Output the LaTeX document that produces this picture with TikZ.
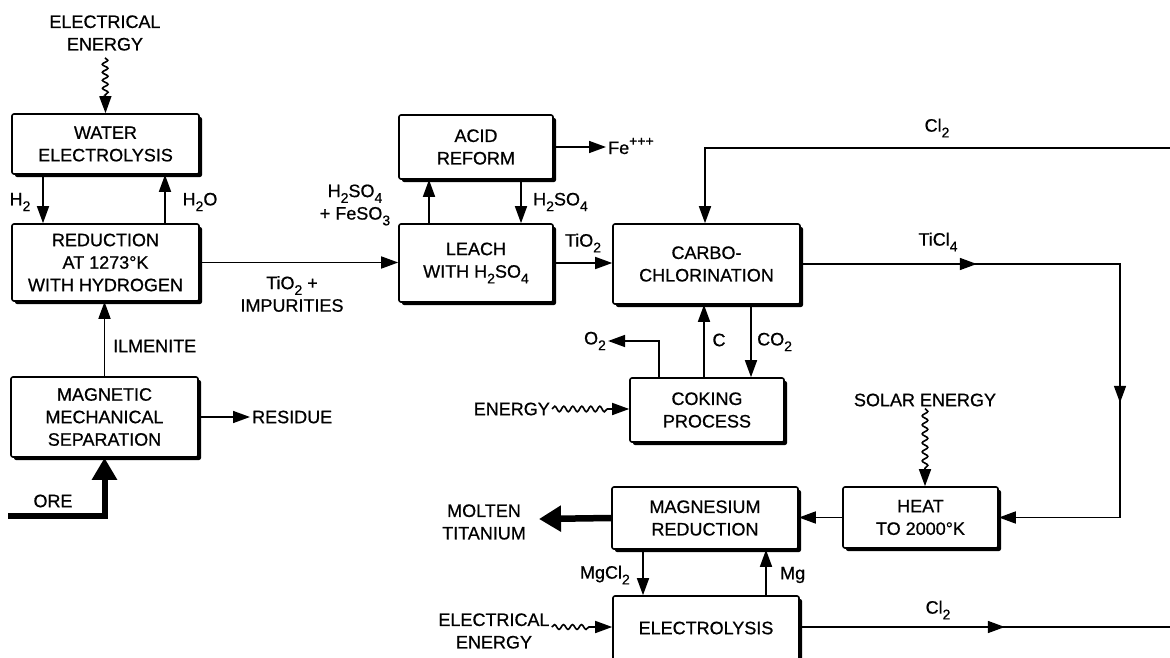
\documentclass[tikz,border=0pt]{standalone}
\usepackage{fontspec}
\setmainfont{Liberation Sans}[FakeBold=0.7]
\usetikzlibrary{arrows.meta,shadows,decorations.pathmorphing,decorations.markings}
\newcommand\sbs[1]{\raisebox{-0.32em}{\fontsize{14}{14}\selectfont #1}}
\newcommand\sps[1]{\raisebox{0.45em}{\fontsize{14}{14}\selectfont #1}}
\begin{document}
\begin{tikzpicture}[x=1pt,y=-1pt,
  every node/.style={font=\fontsize{18}{22.5}\selectfont, inner sep=2pt},
  box/.style={draw, line width=1.6pt, fill=white, rounded corners=2pt, align=center, inner sep=0pt,
    drop shadow={shadow xshift=3pt, shadow yshift=-3pt, fill=black, opacity=1}},
  lbl/.style={align=center},
  tip/.style={-{Triangle[length=17pt,width=12pt]}},
  arr/.style={line width=1.6pt, tip},
  plain/.style={line width=1.6pt},
  wavy/.style={arr, decorate, decoration={snake, amplitude=2.8pt, segment length=8pt, post length=17pt}},
  bigarr/.style={line width=6pt, -{Triangle[length=22pt,width=24pt]}},
  ]
\useasboundingbox (0,0) rectangle (1170,658);

% boxes
\node[box, minimum width=187pt, minimum height=60pt] (water) at (105.5,144) {WATER\\ELECTROLYSIS};
\node[box, minimum width=187pt, minimum height=77pt] (reduct) at (105.5,262.5) {REDUCTION\\AT 1273°K\\WITH HYDROGEN};
\node[box, minimum width=187pt, minimum height=80pt] (magnet) at (104.5,417) {MAGNETIC\\MECHANICAL\\SEPARATION};
\node[box, minimum width=154pt, minimum height=64pt] (acid) at (476,147) {ACID\\REFORM};
\node[box, minimum width=154pt, minimum height=78pt] (leach) at (476,263) {LEACH\\WITH H\sbs{2}SO\sbs{4}};
\node[box, minimum width=187pt, minimum height=80pt] (carbo) at (706.5,264) {CARBO-\\CHLORINATION};
\node[box, minimum width=154pt, minimum height=64pt] (coking) at (707,410) {COKING\\PROCESS};
\node[box, minimum width=186pt, minimum height=62pt] (mag) at (705,518) {MAGNESIUM\\REDUCTION};
\node[box, minimum width=155pt, minimum height=61pt] (heat) at (920.5,517.5) {HEAT\\TO 2000°K};
\node[box, minimum width=186pt, minimum height=64pt] (elec) at (706,628) {ELECTROLYSIS};

% labels
\node[lbl] (eeTop) at (105,33) {ELECTRICAL\\ENERGY};
\node (h2) at (20,202) {H\sbs{2}};
\node (h2o) at (200,202) {H\sbs{2}O};
\node[lbl] (tio2imp) at (292,294) {TiO\sbs{2} +\\IMPURITIES};
\node[anchor=west] (ilm) at (111,346) {ILMENITE};
\node[anchor=west] (residue) at (250,417) {RESIDUE};
\node (ore) at (53,501) {ORE};
\node[lbl] (h2so4a) at (355,205) {H\sbs{2}SO\sbs{4}\\+ FeSO\sbs{3}};
\node[anchor=west] (h2so4b) at (531,202) {H\sbs{2}SO\sbs{4}};
\node[anchor=west] (fe) at (606,146) {Fe\sps{+++}};
\node (tio2) at (583,243) {TiO\sbs{2}};
\node (cltop) at (937,128) {Cl\sbs{2}};
\node (ticl4) at (938,242) {TiCl\sbs{4}};
\node (o2) at (595,341) {O\sbs{2}};
\node (c) at (719,340) {C};
\node[anchor=west] (co2) at (755,342) {CO\sbs{2}};
\node[anchor=east] (energy) at (552,409) {ENERGY};
\node (solar) at (925,400) {SOLAR ENERGY};
\node[lbl] (molten) at (484,522) {MOLTEN\\TITANIUM};
\node[anchor=east] (mgcl2) at (632,575) {MgCl\sbs{2}};
\node[anchor=west] (mg) at (778,575) {Mg};
\node[lbl] (eeBot) at (494,631) {ELECTRICAL\\ENERGY};
\node (clbot) at (938,610) {Cl\sbs{2}};

% helper coordinates
\coordinate (xh2) at (43,0);
\coordinate (xh2o) at (165,0);
\coordinate (xup) at (429,0);
\coordinate (xdn) at (521,0);
\coordinate (xcl) at (705,0);
\coordinate (xc) at (704,0);
\coordinate (xco2) at (751,0);
\coordinate (xo2) at (659,0);
\coordinate (yo2) at (0,341);
\coordinate (xmgcl) at (643,0);
\coordinate (xmg) at (766,0);
\coordinate (xloop) at (1120,0);
\coordinate (clin) at (1172,148);
\coordinate (clout) at (1172,627);
\coordinate (orein) at (8,516);
\coordinate (mtip) at (539,519);

% connectors
\draw[wavy] ([yshift=-5pt]eeTop.south) -- (water.north);
\draw[arr] (water.south -| xh2) -- (reduct.north -| xh2);
\draw[arr] (reduct.north -| xh2o) -- (water.south -| xh2o);
\draw[arr] (reduct.east) -- (reduct.east -| leach.west);
\draw[arr] (magnet.north) -- (magnet.north |- reduct.south);
\draw[arr] (magnet.east) -- (magnet.east -| residue.west);
\draw[bigarr] (orein) -- (magnet.south |- orein) -- (magnet.south);
\draw[arr] (leach.north -| xup) -- (acid.south -| xup);
\draw[arr] (acid.south -| xdn) -- (leach.north -| xdn);
\draw[arr] (acid.east) -- (acid.east -| fe.west);
\draw[arr] (leach.east) -- (leach.east -| carbo.west);
\draw[arr] (clin) -- (clin -| xcl) -- (carbo.north -| xcl);
\draw[arr, postaction={decorate}, decoration={markings,
    mark=at position 176pt with {\arrow{Triangle[length=17pt,width=12pt]}},
    mark=at position 458pt with {\arrow{Triangle[length=17pt,width=12pt]}}}]
  (carbo.east) -- (carbo.east -| xloop) -- (xloop |- heat.east) -- (heat.east);
\draw[arr] (coking.north -| xc) -- (carbo.south -| xc);
\draw[arr] (carbo.south -| xco2) -- (coking.north -| xco2);
\draw[arr] (coking.north -| xo2) -- (xo2 |- yo2) -- (o2.east |- yo2);
\draw[wavy, decoration={amplitude=2.8pt, segment length=9pt, post length=20pt}] (energy.east) -- (energy.east -| coking.west);
\draw[wavy, decoration={amplitude=2.8pt, segment length=9pt, post length=17pt}] (solar.south) -- (solar.south |- heat.north);
\draw[arr] (heat.west) -- (heat.west -| mag.east);
\draw[bigarr, line width=6.5pt, -{Triangle[length=22pt,width=25pt]}] (mag.west) -- (mtip);
\draw[arr] (mag.south -| xmgcl) -- (elec.north -| xmgcl);
\draw[arr] (elec.north -| xmg) -- (mag.south -| xmg);
\draw[wavy, decoration={amplitude=2.4pt, segment length=9pt, post length=20pt}] ([yshift=4pt]eeBot.east) -- ([yshift=4pt]eeBot.east -| elec.west);
\draw[plain, postaction={decorate}, decoration={markings,
    mark=at position 205pt with {\arrow{Triangle[length=17pt,width=12pt]}}}]
  (elec.east |- clout) -- (clout);
\end{tikzpicture}
\end{document}
